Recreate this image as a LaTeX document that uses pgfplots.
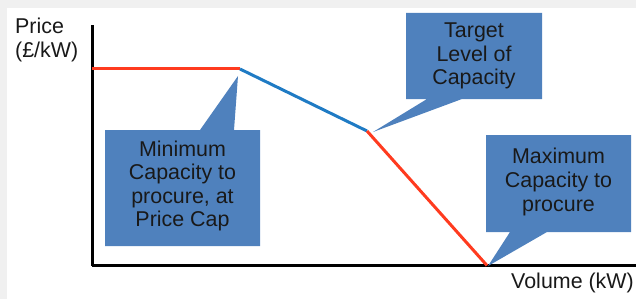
\documentclass[border=0pt]{standalone}
\usepackage{pgfplots}
\pgfplotsset{compat=1.18}
\usepackage{fontspec}
\setmainfont{Liberation Sans}
\definecolor{redline}{HTML}{FF3B1F}
\definecolor{blueline}{HTML}{1F7BC4}
\definecolor{boxblue}{HTML}{4F81BD}
\definecolor{framegray}{HTML}{F0F0F0}
\tikzset{boxtext/.style={font=\fontsize{21.5}{23.7}\selectfont, align=center, text=black!90}}
\begin{document}
\begin{tikzpicture}[x=1bp,y=1bp]
\path[use as bounding box] (0,0) rectangle (636,299);
\fill[framegray] (0,291) rectangle (636,299);
\fill[framegray] (0,0) rectangle (7,299);
\begin{axis}[
  at={(92bp,33.5bp)}, anchor=south west,
  scale only axis, width=544bp, height=240.5bp,
  xmin=92, xmax=636, ymin=33.5, ymax=274,
  axis lines=left, axis line style={line width=3bp,-},
  xtick=\empty, ytick=\empty,
  clip=false,
  every axis plot/.append style={line width=3bp},
]
\addplot[redline, mark=none] coordinates {(92,230) (240,230)};
\addplot[blueline, mark=none] coordinates {(240,230) (367,168)};
\addplot[redline, mark=none] coordinates {(367,168) (487,33.5)};
% callouts
\fill[boxblue] (105,53) -- (260,53) -- (260,169) -- (234,169) -- (238,223) -- (200,169) -- (105,169) -- cycle;
\fill[boxblue] (406,200) -- (427,200) -- (373,167) -- (462,200) -- (542,200) -- (542,286) -- (406,286) -- cycle;
\fill[boxblue] (486,67) -- (510,67) -- (488,33) -- (547,67) -- (631,67) -- (631,164) -- (486,164) -- cycle;
\node[boxtext] at (182.5,113) {Minimum\\Capacity to\\procure, at\\Price Cap};
\node[boxtext] at (474,243) {Target\\Level of\\Capacity};
\node[boxtext] at (558.5,117) {Maximum\\Capacity to\\procure};
% axis titles
\node[anchor=base west, inner sep=0pt, font=\fontsize{21.5}{23.7}\selectfont, text=black!90] at (15,265) {Price};
\node[anchor=base west, inner sep=0pt, font=\fontsize{21.5}{23.7}\selectfont, text=black!90] at (15,241.5) {(£/kW)};
\node[anchor=base east, inner sep=0pt, font=\fontsize{21.5}{23.7}\selectfont, text=black!90] at (634,11) {Volume (kW)};
\end{axis}
\end{tikzpicture}
\end{document}
